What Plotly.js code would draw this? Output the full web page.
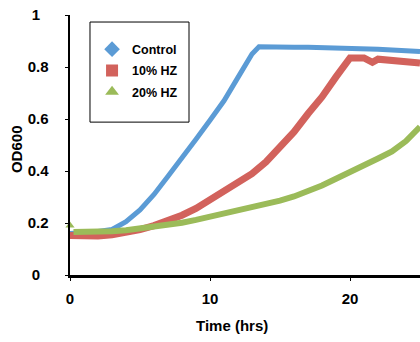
<!DOCTYPE html>
<html>
<head>
<meta charset="utf-8">
<script src="https://cdn.plot.ly/plotly-3.0.1.min.js"></script>
<style>html,body{margin:0;padding:0;background:#fff;}#chart{width:420px;height:342px;}</style>
</head>
<body>
<div id="chart"></div>
<script>
// Time in hours and OD600 readings
var controlTime = [0, 1, 2, 3, 3.6, 4, 5, 6, 7, 8, 9, 10, 11, 12, 13, 13.5, 14, 15, 16, 17, 18, 19, 20, 21, 22, 23, 24, 25];
var controlOD   = [0.16, 0.163, 0.167, 0.175, 0.19, 0.205, 0.25, 0.31, 0.38, 0.455, 0.522, 0.595, 0.67, 0.76, 0.85, 0.878, 0.877, 0.877, 0.876, 0.876, 0.875, 0.874, 0.872, 0.870, 0.868, 0.865, 0.862, 0.86];

var hz10Time = [0, 1, 2, 3, 4, 5, 6, 7, 8, 9, 10, 11, 12, 13, 14, 15, 16, 17, 18, 19, 19.8, 20, 21, 21.6, 22, 23, 24, 25];
var hz10OD   = [0.152, 0.148, 0.150, 0.155, 0.163, 0.175, 0.19, 0.207, 0.23, 0.256, 0.288, 0.323, 0.357, 0.39, 0.435, 0.49, 0.55, 0.62, 0.685, 0.762, 0.83, 0.835, 0.835, 0.818, 0.83, 0.825, 0.82, 0.815];

var hz20Time = [0.25, 1, 2, 3, 4, 5, 6, 7, 8, 9, 10, 11, 12, 13, 14, 15, 16, 17, 18, 19, 20, 21, 22, 23, 24, 25];
var hz20OD   = [0.165, 0.165, 0.166, 0.168, 0.172, 0.178, 0.184, 0.192, 0.201, 0.212, 0.224, 0.236, 0.247, 0.259, 0.271, 0.286, 0.302, 0.321, 0.344, 0.37, 0.398, 0.425, 0.448, 0.475, 0.515, 0.57];
var hz20StartTime = [0];
var hz20StartOD = [0.19];

var seriesNames = ['Control', '10% HZ', '20% HZ'];
var colors = ['#5B9BD5', '#D2625C', '#9BBB59'];
var symbols = ['diamond', 'square', 'triangle-up'];

var xTicks = [0, 10, 20];
var yTicks = [0, 0.2, 0.4, 0.6, 0.8, 1];
var yTickText = ['0\u2007', '0.2', '0.4', '0.6', '0.8', '1\u2007'];

var FAM = 'Liberation Sans, Arial, sans-serif';
var boldFont = function (s) { return {family: FAM, size: s, color: '#000', weight: 'bold'}; };

var traces = [
  {x: controlTime, y: controlOD, mode: 'lines', line: {color: colors[0], width: 5}, showlegend: false, hoverinfo: 'skip'},
  {x: hz10Time, y: hz10OD, mode: 'lines', line: {color: colors[1], width: 7}, showlegend: false, hoverinfo: 'skip'},
  {x: hz20Time, y: hz20OD, mode: 'lines', line: {color: colors[2], width: 6}, showlegend: false, hoverinfo: 'skip'},
  {x: hz20StartTime, y: hz20StartOD, mode: 'markers', marker: {color: colors[2], symbol: 'triangle-up', size: 8}, showlegend: false, cliponaxis: false, hoverinfo: 'skip'}
];
for (var i = 0; i < 3; i++) {
  traces.push({x: [null], y: [null], name: seriesNames[i], legendgroup: 'g' + i, mode: 'markers',
    marker: {color: colors[i], symbol: symbols[i], size: 11}});
}

var layout = {
  width: 420, height: 342,
  margin: {l: 70, r: 0, t: 15, b: 67},
  paper_bgcolor: '#fff', plot_bgcolor: '#fff',
  font: {family: FAM, color: '#000'},
  showlegend: true,
  legend: {
    x: 0.063, y: 0.925, xanchor: 'left', yanchor: 'top',
    borderwidth: 0, bgcolor: 'rgba(0,0,0,0)',
    font: boldFont(12.5),
    traceorder: 'grouped', tracegroupgap: 2, itemsizing: 'constant'
  },
  shapes: [{
    type: 'rect', xref: 'paper', yref: 'paper',
    x0: 0.0571, x1: 0.34, y0: 0.588, y1: 0.973,
    line: {color: '#000', width: 1}, fillcolor: 'rgba(0,0,0,0)', layer: 'above'
  }],
  xaxis: {
    range: [0, 25], tickvals: xTicks, ticktext: xTicks.map(String),
    showgrid: false, zeroline: false, showline: true, linecolor: '#000', linewidth: 2.5,
    ticks: 'outside', ticklen: 3, tickwidth: 1, tickcolor: '#000',
    ticklabelstandoff: 5,
    tickfont: boldFont(15)
  },
  yaxis: {
    range: [0, 1], tickvals: yTicks, ticktext: yTickText,
    showgrid: false, zeroline: false, showline: true, linecolor: '#000', linewidth: 2.5,
    ticks: 'outside', ticklen: 3, tickwidth: 1, tickcolor: '#000',
    ticklabelstandoff: 13,
    tickfont: boldFont(15)
  },
  annotations: [
    {text: 'Time (hrs)', xref: 'paper', yref: 'paper', x: 0.464, y: -0.196,
     xanchor: 'center', yanchor: 'middle', showarrow: false, font: boldFont(15)},
    {text: 'OD600', xref: 'paper', yref: 'paper', x: -0.151, y: 0.485, textangle: -90,
     xanchor: 'center', yanchor: 'middle', showarrow: false, font: boldFont(15)}
  ]
};

Plotly.newPlot('chart', traces, layout, {displayModeBar: false, staticPlot: true});
</script>
</body>
</html>
